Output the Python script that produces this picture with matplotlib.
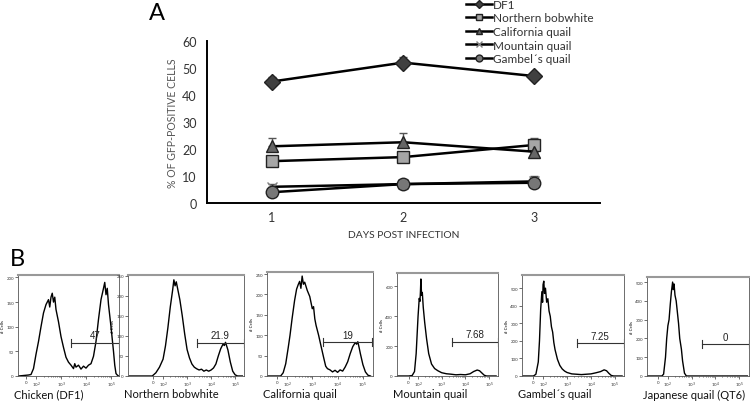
import matplotlib
matplotlib.use('Agg')
import matplotlib.pyplot as plt
import numpy as np

plt.rcParams['font.family'] = ['Lato', 'DejaVu Sans']

# ---- panel A data ----
days = [1, 2, 3]
df1 = [45, 52, 47]
df1_err = [1.5, 2.0, 0.5]
bobwhite = [15.5, 17, 21.5]
bobwhite_err = [0.5, 0.5, 2.5]
california = [21, 22.5, 19]
california_err = [3.0, 3.5, 0.5]
mountain = [6, 7, 8]
mountain_err = [1.2, 0.3, 0.3]
gambel = [4, 7, 7.5]
gambel_err = [0.5, 0.3, 2.5]

# ---- panel B data (x in log decades of fluorescence, y = # cells) ----
chicken_x = [1.3, 1.5, 1.7, 1.8, 1.9, 2.0, 2.1, 2.2, 2.3, 2.4, 2.5, 2.55, 2.6, 2.65, 2.7, 2.75, 2.8, 2.9,
             3.0, 3.1, 3.2, 3.3, 3.4, 3.5, 3.55, 3.6, 3.7, 3.8, 3.9, 4.0, 4.1, 4.2, 4.3, 4.4, 4.5, 4.6,
             4.7, 4.75, 4.8, 4.85, 4.9, 5.0, 5.1, 5.15, 5.2, 5.25, 5.3]
chicken_y = [0, 1, 2, 3, 15, 44, 70, 100, 128, 145, 155, 140, 160, 168, 150, 160, 135, 110,
             80, 58, 38, 28, 22, 15, 25, 18, 22, 14, 20, 16, 22, 25, 40, 70, 115, 155,
             178, 190, 165, 178, 145, 100, 50, 22, 5, 2, 0]
bobwhite_x = [0.6, 1.55, 1.7, 1.85, 2.0, 2.1, 2.2, 2.3, 2.4, 2.45, 2.5, 2.55, 2.6, 2.7, 2.8, 2.9, 3.0,
              3.1, 3.2, 3.3, 3.4, 3.5, 3.6, 3.7, 3.8, 3.9, 4.0, 4.1, 4.2, 4.3, 4.4, 4.5, 4.55, 4.6,
              4.7, 4.8, 4.9, 5.0, 5.1, 5.3]
bobwhite_y = [0, 0, 8, 22, 42, 75, 120, 172, 215, 240, 225, 235, 220, 190, 150, 105, 66,
              45, 30, 22, 18, 15, 17, 12, 15, 12, 15, 20, 30, 50, 68, 80, 76, 84,
              65, 35, 12, 3, 0, 0]
california_x = [1.25, 1.75, 1.85, 1.95, 2.05, 2.12, 2.2, 2.3, 2.38, 2.45, 2.5, 2.55, 2.6, 2.65, 2.7,
                2.8, 2.9, 3.0, 3.05, 3.1, 3.15, 3.25, 3.34, 3.45, 3.53, 3.6, 3.7, 3.8, 3.9, 4.0,
                4.1, 4.2, 4.3, 4.4, 4.5, 4.6, 4.7, 4.75, 4.8, 4.85, 4.9, 5.0, 5.1, 5.2, 5.3]
california_y = [0, 0, 8, 30, 70, 100, 140, 185, 213, 225, 232, 215, 245, 225, 230,
                210, 195, 165, 170, 140, 124, 100, 75, 45, 24, 18, 15, 10, 14, 9,
                15, 12, 22, 35, 55, 72, 82, 78, 84, 70, 55, 28, 10, 2, 0]
mountain_x = [1.15, 1.6, 1.75, 1.85, 1.92, 2.0, 2.05, 2.08, 2.1, 2.12, 2.15, 2.18, 2.22, 2.28, 2.36,
              2.45, 2.57, 2.7, 2.84, 3.0, 3.2, 3.4, 3.6, 3.8, 4.0, 4.2, 4.35, 4.5, 4.6, 4.7, 4.8,
              4.9, 5.3]
mountain_y = [0, 0, 3, 30, 150, 400, 520, 500, 560, 650, 540, 560, 460, 360, 250,
              150, 80, 50, 35, 22, 15, 12, 8, 10, 8, 15, 30, 40, 35, 20, 5,
              0, 0]
gambel_x = [1.15, 1.6, 1.7, 1.8, 1.85, 1.9, 1.95, 1.98, 2.0, 2.03, 2.06, 2.1, 2.15, 2.2, 2.25, 2.3,
            2.35, 2.4, 2.45, 2.5, 2.6, 2.7, 2.8, 2.9, 3.0, 3.2, 3.4, 3.6, 3.8, 4.0, 4.2, 4.4,
            4.55, 4.65, 4.75, 4.85, 4.95, 5.3]
gambel_y = [0, 0, 10, 80, 200, 380, 480, 420, 520, 540, 470, 500, 420, 440, 370, 340,
            280, 250, 190, 150, 95, 60, 40, 28, 20, 12, 10, 8, 10, 12, 18, 25,
            35, 30, 15, 3, 0, 0]
japanese_x = [1.15, 1.75, 1.82, 1.9, 1.95, 2.0, 2.05, 2.1, 2.15, 2.2, 2.23, 2.26, 2.3, 2.35, 2.4,
              2.45, 2.5, 2.57, 2.62, 2.7, 2.78, 5.35]
japanese_y = [0, 0, 10, 100, 200, 267, 300, 380, 450, 500, 460, 490, 430, 400, 340,
              280, 200, 143, 80, 15, 0, 0]

hist_names = ['Chicken (DF1)', 'Northern bobwhite', 'California quail',
              'Mountain quail', 'Gambel\u00b4s quail', 'Japanese quail (QT6)']
hist_values = ['47', '21.9', '19', '7.68', '7.25', '0']
hist_x = [chicken_x, bobwhite_x, california_x, mountain_x, gambel_x, japanese_x]
hist_y = [chicken_y, bobwhite_y, california_y, mountain_y, gambel_y, japanese_y]
hist_ymax = [205, 252, 255, 690, 575, 527]
hist_yticks = [[0, 50, 100, 150, 200], [0, 50, 100, 150, 200, 250], [0, 50, 100, 150, 200, 250],
               [0, 200, 400, 600], [0, 100, 200, 300, 400, 500], [0, 100, 200, 300, 400, 500]]
hist_xlim = [(1.28, 5.32), (0.54, 5.37), (1.21, 5.4), (1.11, 5.38), (1.12, 5.38), (1.12, 5.42)]
gate_level = [67, 83, 83, 230, 187, 170]
gate_start = 3.42

W, H = 750, 406
fig = plt.figure(figsize=(7.5, 4.06), dpi=100)

# ---------------- panel A ----------------
ax = fig.add_axes([206.5 / W, (H - 204) / H, (600 - 206.5) / W, 162 / H])
series = [
    ('DF1', df1, df1_err, 'D', '#404040', 8),
    ('Northern bobwhite', bobwhite, bobwhite_err, 's', '#a6a6a6', 8),
    ('California quail', california, california_err, '^', '#666666', 9),
    ('Mountain quail', mountain, mountain_err, 'x', '#808080', 7),
    ('Gambel\u00b4s quail', gambel, gambel_err, 'o', '#777777', 9),
]
handles = []
for name, vals, err, mk, col, ms in series:
    ax.errorbar(days, vals, yerr=[[0] * 3, err], fmt='none', ecolor='#555555',
                elinewidth=1, capsize=3, zorder=2)
    h, = ax.plot(days, vals, color='black', lw=1.8, marker=mk, markersize=ms,
                 markerfacecolor=col, markeredgecolor='#222222' if mk != 'x' else col,
                 markeredgewidth=1, label=name, zorder=3)
    handles.append(h)

ax.set_xlim(0.5, 3.5)
ax.set_ylim(0, 60)
ax.set_xticks(days)
ax.set_yticks([0, 10, 20, 30, 40, 50, 60])
ax.tick_params(length=0, labelsize=9, colors='#333333', pad=7)
ax.tick_params(axis='x', pad=6)
for s in ['top', 'right']:
    ax.spines[s].set_visible(False)
for s in ['left', 'bottom']:
    ax.spines[s].set_linewidth(1.4)
ax.set_ylabel('% OF GFP-POSITIVE CELLS', fontsize=7.6, color='#555555', labelpad=3)
ax.set_xlabel('DAYS POST INFECTION', fontsize=7.4, color='#333333', labelpad=5)

leg = fig.legend(handles=handles, loc='upper left', bbox_to_anchor=(459 / W, 1.018),
                 frameon=False, fontsize=8.5, labelspacing=0.22, handlelength=2.2,
                 handletextpad=0.1, borderpad=0.1, markerscale=0.55, labelcolor='#333333')

fig.text(149 / W, 1 - 13 / H, 'A', fontsize=17, va='center', ha='left')
fig.text(10 / W, 1 - 259 / H, 'B', fontsize=17, va='center', ha='left')

# ---------------- panel B ----------------
boxes = [(18, 276, 119, 377), (128, 276, 244, 377), (267, 273, 373, 377),
         (397, 274, 498, 377), (522, 276, 624, 377), (647, 278, 749, 377)]
minor = [np.log10(k * 10.0 ** d) for d in range(2, 5) for k in range(2, 10)]
for i, (l, t, r, b) in enumerate(boxes):
    hx = fig.add_axes([l / W, (H - b) / H, (r - l) / W, (b - t) / H])
    hx.plot(hist_x[i], hist_y[i], color='black', lw=1.0)
    hx.set_xlim(*hist_xlim[i])
    hx.set_ylim(0, hist_ymax[i])
    hx.set_yticks(hist_yticks[i])
    hx.set_xticks([1.6, 2, 3, 4, 5])
    hx.set_xticklabels(['0', '10$^2$', '10$^3$', '10$^4$', '10$^5$'])
    hx.set_xticks([m for m in minor if m < hist_xlim[i][1]], minor=True)
    hx.tick_params(labelsize=3.2, length=2, width=0.5, pad=1, colors='#333333')
    hx.tick_params(which='minor', length=1, width=0.4)
    hx.set_ylabel('# Cells', fontsize=3.2, labelpad=1)
    for s in hx.spines.values():
        s.set_linewidth(0.6)
        s.set_color('#555555')
    hx.spines['top'].set_color('#999999')
    hx.spines['top'].set_linewidth(1.5)
    # gate bar
    g = gate_level[i]
    x1 = hist_xlim[i][1] - 0.02
    hx.plot([gate_start, x1], [g, g], color='#333333', lw=0.8)
    hx.plot([gate_start, gate_start], [g - hist_ymax[i] * 0.04, g + hist_ymax[i] * 0.04],
            color='#333333', lw=0.8)
    hx.plot([x1, x1], [g - hist_ymax[i] * 0.04, g + hist_ymax[i] * 0.04],
            color='#333333', lw=0.8)
    hx.text((gate_start + x1) / 2, g + hist_ymax[i] * 0.025, hist_values[i],
            fontsize=7, family='Liberation Sans', ha='center', va='bottom', color='#222222')
    fig.text((l - 4) / W, 1 - 395 / H, hist_names[i], fontsize=8,
             ha='left', va='center', color='#111111')

fig.savefig('out.png', dpi=100)
